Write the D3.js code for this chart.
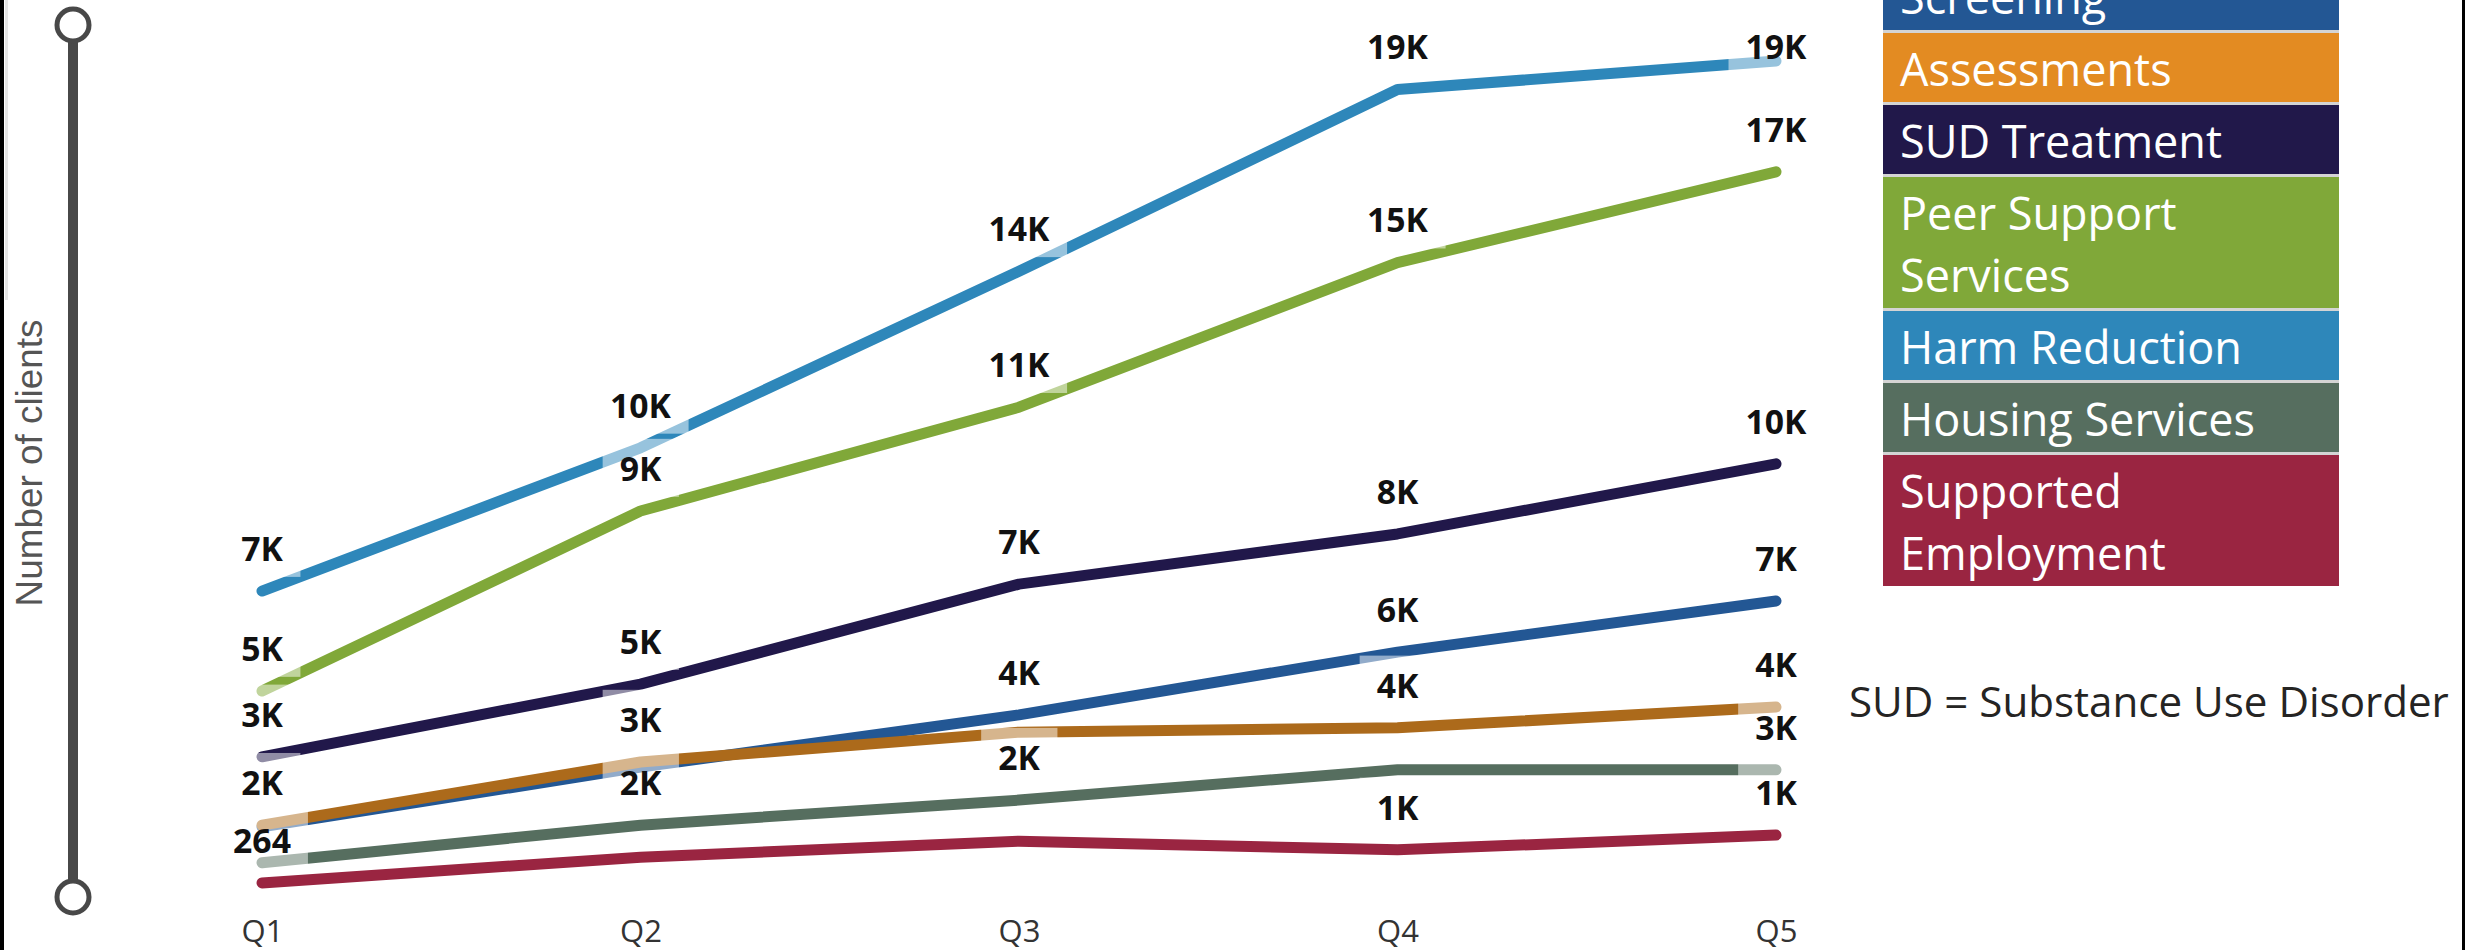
<!DOCTYPE html>
<html><head><meta charset="utf-8">
<script src="https://cdn.jsdelivr.net/npm/d3@7"></script>
<style>html,body{margin:0;padding:0;background:#fff;overflow:hidden}</style>
</head><body>
<svg id="chart" width="2474" height="950"></svg>
<script>
// ---------- data ----------
const quarters = ["Q1", "Q2", "Q3", "Q4", "Q5"];
const seriesNames = ["Screening", "Assessments", "SUD Treatment", "Peer Support Services",
                     "Harm Reduction", "Housing Services", "Supported Employment"];
const screening           = [1560, 2940, 4150, 5600, 6780];
const assessments         = [1600, 3060, 3750, 3850, 4330];
const sudTreatment        = [3180, 4860, 7170, 8330, 9950];
const peerSupport         = [4700, 8860, 11260, 14600, 16700];
const harmReduction       = [7010, 10320, 14400, 18600, 19260];
const housingServices     = [730, 1600, 2180, 2880, 2880];
const supportedEmployment = [264, 860, 1230, 1030, 1370];
// which data labels are visible (1 = shown), per series, per quarter
const labelsScreening   = [0, 0, 1, 1, 1];
const labelsAssessments = [1, 1, 0, 1, 1];
const labelsSud         = [1, 1, 1, 1, 1];
const labelsPeer        = [1, 1, 1, 1, 1];
const labelsHarm        = [1, 1, 1, 1, 1];
const labelsHousing     = [0, 1, 1, 0, 1];
const labelsSupported   = [1, 0, 0, 1, 1];
const legendColors = ["#235794", "#E38B22", "#21184A", "#80A839", "#2E87BA", "#566E5F", "#9A2541"];
const lineColors   = ["#235794", "#AC6A1B", "#21184A", "#80A839", "#2E87BA", "#566E5F", "#9A2541"];
const axisTitle = "Number of clients";
const noteText = "SUD = Substance Use Disorder";

const series = seriesNames.map((name, i) => ({
  name,
  values: [screening, assessments, sudTreatment, peerSupport, harmReduction, housingServices, supportedEmployment][i],
  labels: [labelsScreening, labelsAssessments, labelsSud, labelsPeer, labelsHarm, labelsHousing, labelsSupported][i],
  color: lineColors[i],
  legendColor: legendColors[i]
}));

// ---------- setup ----------
const svg = d3.select("#chart");
const FONT = "'Segoe UI', 'Open Sans', 'Noto Sans', sans-serif";
const TITLE_FONT = "'Liberation Sans', Arial, sans-serif";

function fitSize(text, weight, target, family) {
  const t = svg.append("text").attr("font-family", family || FONT).attr("font-weight", weight)
    .attr("font-size", 100).text(text);
  const w = t.node().getComputedTextLength();
  t.remove();
  return 100 * target / w;
}
const labelSize  = fitSize("19K", 700, 61);
const tickSize   = 31;
const legendSize = fitSize("Harm Reduction", 400, 342);
const noteSize   = fitSize(noteText, 400, 600);
const titleSize  = fitSize(axisTitle, 400, 287, TITLE_FONT);

const x = d3.scalePoint().domain(quarters).range([262, 1776]);
const y = d3.scaleLinear().domain([0, 20000]).range([894.4, 29]);

// ---------- frame ----------
svg.append("rect").attr("x", 5).attr("y", 0).attr("width", 3).attr("height", 300).attr("fill", "#e6e6e6");
svg.append("rect").attr("x", 0).attr("y", 0).attr("width", 4).attr("height", 950).attr("fill", "#000");
svg.append("rect").attr("x", 2462).attr("y", 0).attr("width", 3).attr("height", 950).attr("fill", "#000");

// ---------- slider (range selector) ----------
const sl = svg.append("g");
sl.append("line").attr("x1", 73).attr("x2", 73).attr("y1", y(20000) - 4).attr("y2", y(0) + 3)
  .attr("stroke", "#484848").attr("stroke-width", 10);
[25, 897].forEach(cy => sl.append("circle").attr("cx", 73).attr("cy", cy).attr("r", 16)
  .attr("fill", "#fff").attr("stroke", "#484848").attr("stroke-width", 5));

// axis title
svg.append("text")
  .attr("transform", "translate(42,463) rotate(-90)")
  .attr("text-anchor", "middle")
  .attr("font-family", TITLE_FONT).attr("font-size", titleSize)
  .attr("fill", "#555").text(axisTitle);

// ---------- x axis ----------
const xAxis = svg.append("g").attr("transform", "translate(0,931)")
  .call(d3.axisBottom(x).tickSize(0).tickPadding(0));
xAxis.select(".domain").remove();
xAxis.selectAll("text").attr("dy", "0.35em").attr("y", 0)
  .attr("font-family", FONT).attr("font-size", tickSize).attr("fill", "#333");

// ---------- lines ----------
const line = d3.line().x((d, i) => x(quarters[i])).y(d => y(d));
svg.append("g").selectAll("path").data(series).join("path")
  .attr("d", d => line(d.values))
  .attr("fill", "none").attr("stroke", d => d.color)
  .attr("stroke-width", 11).attr("stroke-linecap", "round").attr("stroke-linejoin", "round");

// ---------- data labels ----------
function fmt(v) { return v >= 1000 ? Math.round(v / 1000) + "K" : String(Math.round(v)); }
const lblG = svg.append("g");
const labelData = [];
series.forEach(s => s.values.forEach((v, i) => {
  if (s.labels[i]) labelData.push({ q: quarters[i], v });
}));
const lg = lblG.selectAll("g").data(labelData).join("g")
  .attr("transform", d => `translate(${x(d.q)},${Math.max(47, y(d.v) - 42)})`);
lg.append("text")
  .attr("text-anchor", "middle").attr("dy", "0.35em")
  .attr("font-family", FONT).attr("font-weight", 700).attr("font-size", labelSize)
  .attr("fill", "#111").text(d => fmt(d.v));
lg.each(function () {
  const g = d3.select(this);
  const b = g.select("text").node().getBBox();
  g.insert("rect", "text").attr("x", b.x - 17).attr("y", b.y - 6)
    .attr("width", b.width + 34).attr("height", b.height + 12)
    .attr("fill", "#fff").attr("opacity", 0.5);
});

// ---------- legend ----------
const legX = 1883, legW = 456, lineH = 62, gap = 3;
const leg = svg.append("g");
function wrap(text, maxW) {
  const words = text.split(" "); const lines = []; let cur = "";
  const t = svg.append("text").attr("font-family", FONT).attr("font-size", legendSize);
  words.forEach(w => {
    const test = cur ? cur + " " + w : w;
    t.text(test);
    if (t.node().getComputedTextLength() > maxW && cur) { lines.push(cur); cur = w; }
    else cur = test;
  });
  lines.push(cur); t.remove(); return lines;
}
let rowTop = -39;
const rows = series.map(s => {
  const lines = wrap(s.name, legW - 34);
  const h = lines.length * lineH + 7;
  const r = { s, lines, top: rowTop, h };
  rowTop += h + gap;
  return r;
});
const last = rows[rows.length - 1];
leg.append("rect").attr("x", legX).attr("y", -45).attr("width", legW)
  .attr("height", last.top + last.h + 45).attr("fill", "#d4d4d4");
rows.forEach(r => {
  leg.append("rect").attr("x", legX).attr("y", r.top).attr("width", legW).attr("height", r.h)
    .attr("fill", r.s.legendColor);
  r.lines.forEach((ln, k) => {
    leg.append("text").attr("x", legX + 17).attr("y", r.top + 53 + k * lineH)
      .attr("font-family", FONT).attr("font-size", legendSize).attr("fill", "#fff").text(ln);
  });
});

// ---------- note ----------
svg.append("text").attr("x", 1849).attr("y", 717)
  .attr("font-family", FONT).attr("font-size", noteSize).attr("fill", "#252423").text(noteText);
</script>
</body></html>
